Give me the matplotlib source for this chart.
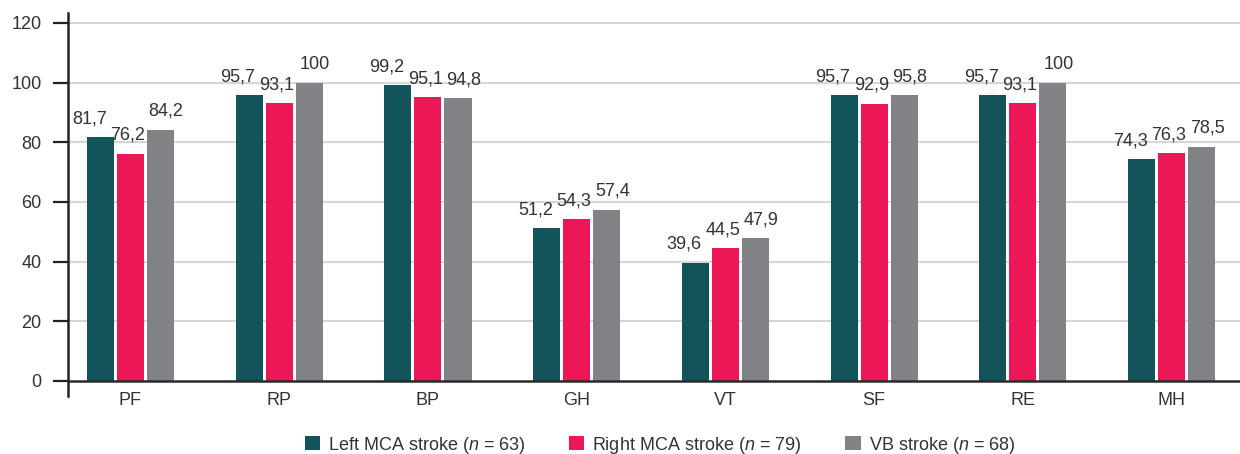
import matplotlib
matplotlib.use("Agg")
import matplotlib.pyplot as plt
import numpy as np
from matplotlib.patches import Patch

plt.rcParams['font.family'] = ['Liberation Sans', 'DejaVu Sans']
plt.rcParams['mathtext.fontset'] = 'custom'
plt.rcParams['mathtext.it'] = 'Liberation Sans:italic'
plt.rcParams['mathtext.rm'] = 'Liberation Sans'

categories = ["PF", "RP", "BP", "GH", "VT", "SF", "RE", "MH"]
left_mca = [81.7, 95.7, 99.2, 51.2, 39.6, 95.7, 95.7, 74.3]
right_mca = [76.2, 93.1, 95.1, 54.3, 44.5, 92.9, 93.1, 76.3]
vb = [84.2, 100, 94.8, 57.4, 47.9, 95.8, 100, 78.5]
series_labels = ["Left MCA stroke ($\\it{n}$ = 63)",
                 "Right MCA stroke ($\\it{n}$ = 79)",
                 "VB stroke ($\\it{n}$ = 68)"]
colors = ["#12545A", "#EC1856", "#818285"]
yticks = [0, 20, 40, 60, 80, 100, 120]

text_color = "#333333"
fs = 13
fig = plt.figure(figsize=(12.4, 4.54), dpi=100)
ax = fig.add_axes([68/1240, (454-396)/454, 1 - 68/1240, (396-13)/454])

x = np.arange(len(categories))
w = 0.182
step = 0.202
series = [left_mca, right_mca, vb]
label_dx = [-8, -2, 4]
for i, (vals, c) in enumerate(zip(series, colors)):
    pos = x + (i - 1) * step
    ax.bar(pos, vals, width=w, color=c, zorder=3)
    for px, v in zip(pos, vals):
        s = ("%g" % v).replace(".", ",")
        ax.annotate(s, (px, v), xytext=(label_dx[i], 10), textcoords="offset points",
                    ha="center", va="baseline", fontsize=fs, color=text_color, zorder=4)

ax.set_xlim(-0.42, len(categories) - 1 + 0.46)
ax.set_ylim(-5.03, 123.35)
ax.set_yticks(yticks)
ax.set_yticklabels([str(t) for t in yticks], fontsize=fs, color=text_color)
ax.set_xticks(x)
ax.set_xticklabels(categories, fontsize=fs, color=text_color)
ax.tick_params(axis="x", length=0, pad=-3)
ax.tick_params(axis="y", length=11, width=1.6, color="#222222", pad=8, direction="out")

for t in yticks[1:]:
    ax.axhline(t, color="#d6d6d6", lw=1.5, zorder=1)
ax.axhline(0, color="#2a2a2a", lw=1.8, zorder=5)

for s in ["top", "right", "bottom"]:
    ax.spines[s].set_visible(False)
ax.spines["left"].set_color("#222222")
ax.spines["left"].set_linewidth(1.8)

handles = [Patch(facecolor=c, edgecolor="none") for c in colors]
fig.legend(handles, series_labels, loc="center", bbox_to_anchor=(660/1240, 1 - 445/454),
           ncol=3, frameon=False, fontsize=fs, handlelength=0.85, handleheight=0.85,
           handletextpad=0.45, columnspacing=2.4, labelcolor=text_color)

fig.savefig("out.png", dpi=100)
